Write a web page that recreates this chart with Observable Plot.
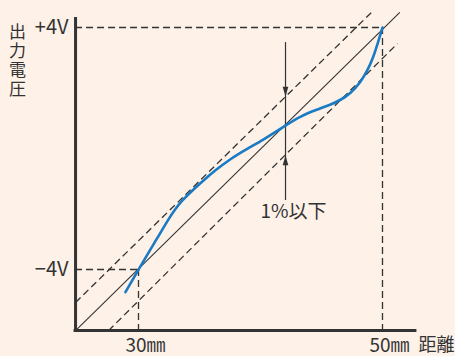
<!DOCTYPE html>
<html>
<head>
<meta charset="utf-8">
<script src="https://cdn.jsdelivr.net/npm/d3@7"></script>
<script src="https://cdn.jsdelivr.net/npm/@observablehq/plot@0.6"></script>
<style>
  html, body { margin: 0; padding: 0; background: #fdf1e8; }
</style>
</head>
<body>
<div id="chart"></div>
<script>
// Axis extents (mm, V)
const xMin = 24.84, xMax = 52.7;
const yMin = -6.02, yMax = 4.33;

// Output curve (distance mm -> output V)
const curveX = [28.93, 30.00, 31.66, 32.48, 33.03, 33.58, 34.40, 35.49, 36.17, 37.54, 38.91, 40.27, 41.37, 42.05, 43.28, 44.65, 45.74, 46.56, 47.38, 48.20, 48.77, 49.20, 49.59, 50.00];
const curveY = [-4.75, -4.00, -2.88, -2.32, -1.99, -1.72, -1.39, -1.00, -0.76, -0.34, -0.01, 0.30, 0.58, 0.76, 1.07, 1.29, 1.45, 1.60, 1.82, 2.19, 2.58, 2.97, 3.45, 4.00];

// Ideal line and ±1% band (endpoints)
const idealX = [24.84, 51.42], idealY = [-6.02, 4.50];
const upperX = [24.84, 49.10], upperY = [-5.09, 4.50];
const lowerX = [27.54, 51.23], lowerY = [-6.02, 3.47];

// Guide points
const guideX = [30, 50];
const guideY = [-4, 4];
const guideYLabels = ["−4V", "+4V"];
const guideXLabels = ["30㎜", "50㎜"];

// Tolerance arrow
const arrowX = 42.05;
const arrowTop = 3.5, arrowBottom = -1.72;
const headDownY = 1.71, headUpY = -0.22;
const tolLabel = "1%以下";
const tolLabelY = -2.08;

const yTitle = "出力電圧";
const xTitle = "距離";

const ink = "#333";
const guides = guideX.map((x, i) => ({x, y: guideY[i], ylab: guideYLabels[i], xlab: guideXLabels[i]}));
const curve = curveX.map((x, i) => ({x, y: curveY[i]}));
const seg = (xs, ys) => [{x1: xs[0], y1: ys[0], x2: xs[1], y2: ys[1]}];

const downHead = {draw(ctx) { ctx.moveTo(0, 0); ctx.lineTo(-2.8, -10); ctx.lineTo(2.8, -10); ctx.closePath(); }};
const upHead = {draw(ctx) { ctx.moveTo(0, 0); ctx.lineTo(-2.8, 10); ctx.lineTo(2.8, 10); ctx.closePath(); }};

const dashed = {stroke: ink, strokeWidth: 1.3, strokeDasharray: "7,4"};

const chart = Plot.plot({
  width: 455,
  height: 356,
  margin: 0,
  x: {domain: [30, 50], range: [138, 382], axis: null},
  y: {domain: [-4, 4], range: [269, 27], axis: null},
  style: {background: "#fdf1e8", fontFamily: "'Noto Sans CJK JP', sans-serif", color: ink},
  marks: [
    // guide dashes
    Plot.ruleY(guides, {y: "y", x1: xMin, x2: "x", ...dashed}),
    Plot.ruleX(guides, {x: "x", y1: "y", y2: yMin, ...dashed}),
    // tolerance band
    Plot.link(seg(upperX, upperY), {x1: "x1", y1: "y1", x2: "x2", y2: "y2", ...dashed}),
    Plot.link(seg(lowerX, lowerY), {x1: "x1", y1: "y1", x2: "x2", y2: "y2", ...dashed}),
    // ideal line
    Plot.link(seg(idealX, idealY), {x1: "x1", y1: "y1", x2: "x2", y2: "y2", stroke: ink, strokeWidth: 1.1}),
    // arrow
    Plot.ruleX([arrowX], {y1: arrowTop, y2: arrowBottom, stroke: ink, strokeWidth: 1.2}),
    Plot.dot([{x: arrowX, y: headDownY}], {x: "x", y: "y", symbol: downHead, fill: ink, stroke: "none"}),
    Plot.dot([{x: arrowX, y: headUpY}], {x: "x", y: "y", symbol: upHead, fill: ink, stroke: "none"}),
    Plot.text([tolLabel], {x: arrowX, y: tolLabelY, dx: 8, text: d => d, fontSize: 19, fill: ink}),
    // curve
    Plot.line(curve, {x: "x", y: "y", stroke: "#1a7bc4", strokeWidth: 2.6, curve: "basis"}),
    // axes
    Plot.ruleX([xMin], {y1: yMin, y2: yMax, stroke: ink, strokeWidth: 3}),
    Plot.ruleY([yMin], {x1: xMin, x2: xMax, stroke: ink, strokeWidth: 3, strokeLinecap: "square"}),
    // labels
    Plot.text(guides, {x: xMin, y: "y", text: "ylab", dx: -7, textAnchor: "end", fontSize: 20, fill: ink}),
    Plot.text(guides, {x: "x", y: yMin, text: "xlab", dx: 7, dy: 15, fontSize: 19, fill: ink}),
    Plot.text([xTitle], {x: xMax, y: yMin, text: d => d, dy: 15, dx: 3, textAnchor: "start", fontSize: 18, fill: ink}),
    Plot.text([yTitle], {x: xMin, y: yMax, text: d => d, dx: -58, textAnchor: "start", fontSize: 17, fill: ink})
  ]
});
// set the y title in vertical writing
d3.select(chart).selectAll("text").filter(function() { return this.textContent === yTitle; })
  .style("writing-mode", "vertical-rl")
  .style("letter-spacing", "2px")
  .attr("dy", null)
  .attr("dominant-baseline", "central");
document.getElementById("chart").appendChild(chart);
</script>
</body>
</html>
